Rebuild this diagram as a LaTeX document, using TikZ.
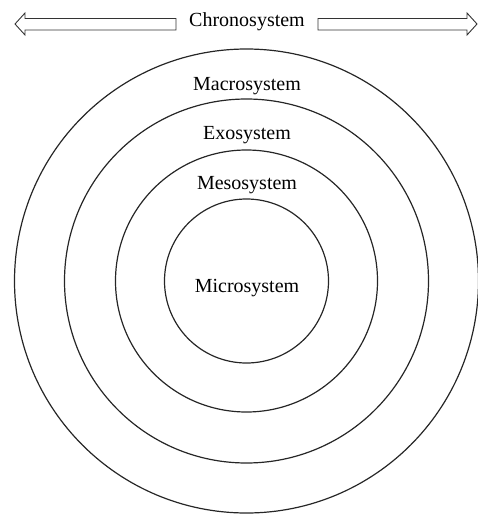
\documentclass[tikz,border=0pt]{standalone}
\usepackage{fontspec}
\setmainfont{Liberation Serif}
\begin{document}
\begin{tikzpicture}[x=1pt,y=-1pt,
  ring/.style={draw=black!85,line width=1.2pt},
  lbl/.style={anchor=base,inner sep=0pt,font=\fontsize{20}{24}\selectfont},
  hollowarrow/.style={draw=black!80,line width=0.9pt,line join=miter}]
\useasboundingbox (0,0) rectangle (478,514);
\coordinate (c) at (246.5,281);
\draw[ring] (c) circle[radius=232];
\draw[ring] (c) circle[radius=182];
\draw[ring] (c) circle[radius=131];
\draw[ring] (c) circle[radius=82];
\node[lbl] (chrono) at (247,27) {Chronosystem};
\node[lbl] (macro) at (247,90) {Macrosystem};
\node[lbl] (exo) at (247,139) {Exosystem};
\node[lbl] (meso) at (247,189) {Mesosystem};
\node[lbl] (micro) at (247,292) {Microsystem};
\draw[hollowarrow] (15,24) -- (25,13) -- (25,18.5) -- (176,18.5) -- (176,30) -- (25,30) -- (25,35) -- cycle;
\draw[hollowarrow] (318,18.5) -- (467,18.5) -- (467,13) -- (477,24) -- (467,35) -- (467,30) -- (318,30) -- cycle;
\end{tikzpicture}
\end{document}
